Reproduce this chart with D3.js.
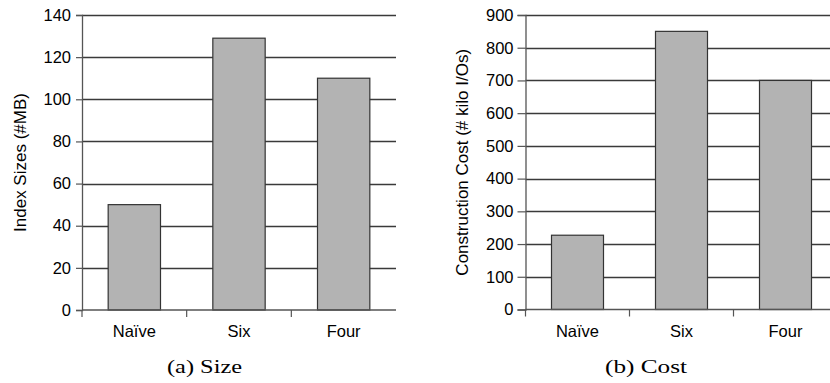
<!DOCTYPE html>
<html>
<head>
<meta charset="utf-8">
<script src="https://cdn.jsdelivr.net/npm/d3@7"></script>
<style>
  html, body { margin: 0; padding: 0; background: #fff; }
  svg { display: block; }
  .tick text { font-family: "Liberation Sans", Arial, sans-serif; font-size: 16.5px; fill: #000; }
</style>
</head>
<body>
<svg id="chart" width="830" height="383"></svg>
<script>
// Index structures compared in both panels
const categories = ["Naïve", "Six", "Four"];

// Panel (a): index size in MB
const sizeValues = [50, 129, 110];
const sizeTicks = [0, 20, 40, 60, 80, 100, 120, 140];

// Panel (b): construction cost in kilo I/Os
const costValues = [227, 850, 700];
const costTicks = [0, 100, 200, 300, 400, 500, 600, 700, 800, 900];

const panels = [
  { values: sizeValues, ticks: sizeTicks, max: 140, yTitle: "Index Sizes (#MB)", caption: "(a) Size",
    left: 82, right: 396, top: 15, bottom: 310, titleX: 20, captionX: 204.5, captionW: 75,
    tickSize: 6, tickPad: 5 },
  { values: costValues, ticks: costTicks, max: 900, yTitle: "Construction Cost (# kilo I/Os)", caption: "(b) Cost",
    left: 525.5, right: 837.5, top: 15, bottom: 309.5, titleX: 462, captionX: 646, captionW: 82,
    tickSize: 8, tickPad: 4 }
];

const sans = "'Liberation Sans', Arial, sans-serif";
const svg = d3.select("#chart");

panels.forEach(p => {
  const g = svg.append("g");

  const x = d3.scaleBand().domain(categories).range([p.left, p.right]).padding(0);
  const y = d3.scaleLinear().domain([0, p.max]).range([p.bottom, p.top]);

  // horizontal gridlines
  g.append("g").selectAll("line").data(p.ticks.filter(t => t > 0)).join("line")
    .attr("x1", p.left).attr("x2", p.right)
    .attr("y1", d => Math.round(y(d)) + 0.5).attr("y2", d => Math.round(y(d)) + 0.5)
    .attr("stroke", "#3a3a3a").attr("stroke-width", 1.3);

  // bars, centred at half the category width
  g.append("g").selectAll("rect").data(p.values).join("rect")
    .attr("x", (d, i) => x(categories[i]) + x.bandwidth() / 4)
    .attr("y", d => y(d))
    .attr("width", x.bandwidth() / 2)
    .attr("height", d => y(0) - y(d))
    .attr("fill", "#b3b3b3")
    .attr("stroke", "#333")
    .attr("stroke-width", 1.2);

  // y axis
  const yAxis = d3.axisLeft(y).tickValues(p.ticks).tickSize(p.tickSize).tickPadding(p.tickPad).tickFormat(d3.format("d"));
  const ya = g.append("g").attr("transform", `translate(${p.left},0)`).call(yAxis);
  ya.select(".domain").attr("stroke", "#555").attr("stroke-width", 1.3);
  ya.selectAll(".tick line").attr("stroke", "#555").attr("stroke-width", 1.2);

  // x axis with ticks on category boundaries
  g.append("line")
    .attr("x1", p.left).attr("x2", p.right)
    .attr("y1", p.bottom).attr("y2", p.bottom)
    .attr("stroke", "#555").attr("stroke-width", 1.3);
  g.append("g").selectAll("line").data(categories.map(c => x(c))).join("line")
    .attr("x1", d => d).attr("x2", d => d)
    .attr("y1", p.bottom).attr("y2", p.bottom + 7)
    .attr("stroke", "#555").attr("stroke-width", 1.2);
  g.append("g").selectAll("text").data(categories).join("text")
    .attr("x", d => x(d) + x.bandwidth() / 2)
    .attr("y", 337)
    .attr("text-anchor", "middle")
    .style("font-family", sans)
    .style("font-size", "16.5px")
    .text(d => d);

  // y axis title
  g.append("text")
    .attr("transform", `translate(${p.titleX},${(p.top + p.bottom) / 2}) rotate(-90)`)
    .attr("text-anchor", "middle")
    .attr("dy", "0.35em")
    .style("font-family", sans)
    .style("font-size", "17px")
    .text(p.yTitle);

  // caption below the panel
  g.append("text")
    .attr("x", p.captionX).attr("y", 373)
    .attr("text-anchor", "middle")
    .attr("textLength", p.captionW)
    .attr("lengthAdjust", "spacingAndGlyphs")
    .style("font-family", "'Liberation Serif', 'DejaVu Serif', serif")
    .style("font-size", "18px")
    .text(p.caption);
});
</script>
</body>
</html>
